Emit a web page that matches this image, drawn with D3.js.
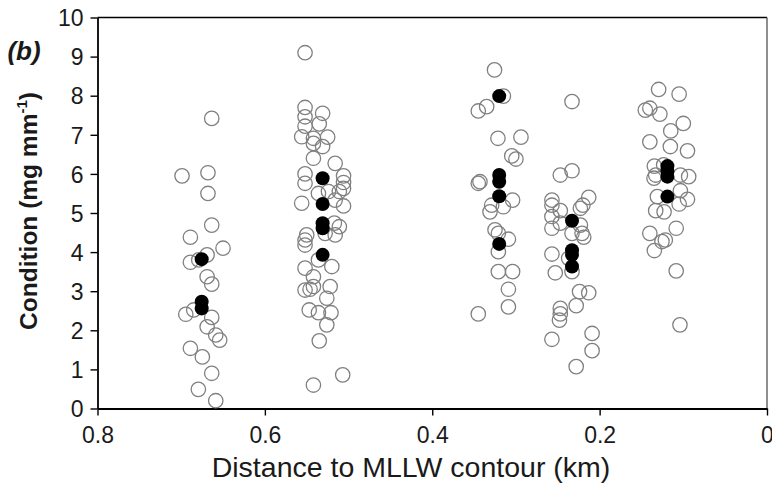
<!DOCTYPE html>
<html>
<head>
<meta charset="utf-8">
<script src="https://cdn.jsdelivr.net/npm/d3@7"></script>
<style>
  body { margin: 0; background: #fff; }
  text { font-family: Arial, "Liberation Sans", sans-serif; fill: #1a1a1a; }
</style>
</head>
<body>
<svg id="chart" width="772" height="488"></svg>
<script>
// individual measurements: [distance km, condition]
const openPoints = [
  [0.6635,7.42],[0.699,5.95],[0.668,6.03],[0.668,5.50],[0.6635,4.69],[0.689,4.38],[0.650,4.10],[0.669,3.93],
  [0.679,3.80],[0.689,3.74],[0.669,3.37],[0.6635,3.18],[0.6945,2.41],[0.685,2.52],[0.6635,2.33],[0.669,2.09],
  [0.6587,1.88],[0.654,1.75],[0.689,1.54],[0.6747,1.32],[0.6635,0.90],[0.6795,0.49],[0.6587,0.20],
  [0.552,9.10],[0.552,7.70],[0.531,7.55],[0.552,7.46],[0.535,7.28],[0.552,7.22],[0.556,6.95],[0.542,6.91],
  [0.525,6.94],[0.542,6.78],[0.531,6.70],[0.542,6.40],[0.516,6.27],[0.552,6.00],[0.506,5.95],[0.552,5.76],
  [0.506,5.78],[0.506,5.63],[0.511,5.55],[0.536,5.50],[0.524,5.55],[0.516,5.33],[0.556,5.25],[0.506,5.18],
  [0.517,4.74],[0.511,4.65],[0.516,4.44],[0.528,4.48],[0.550,4.44],[0.552,4.31],[0.552,4.18],[0.536,3.80],
  [0.520,3.63],[0.552,3.59],[0.542,3.37],[0.522,3.12],[0.552,3.03],[0.546,3.05],[0.542,3.12],[0.526,2.82],
  [0.547,2.52],[0.536,2.45],[0.521,2.45],[0.526,2.14],[0.535,1.73],[0.542,0.60],[0.507,0.86],
  [0.3256,8.66],[0.315,7.99],[0.335,7.72],[0.345,7.61],[0.3215,6.91],[0.294,6.94],[0.305,6.46],[0.300,6.38],
  [0.343,5.80],[0.345,5.76],[0.304,5.33],[0.329,5.20],[0.315,5.16],[0.331,5.03],[0.325,4.57],[0.321,4.48],
  [0.309,4.33],[0.321,4.01],[0.321,3.50],[0.304,3.50],[0.309,3.05],[0.309,2.60],[0.345,2.42],
  [0.233,7.85],[0.247,5.97],[0.233,6.08],[0.257,5.33],[0.257,5.20],[0.247,5.06],[0.213,5.40],[0.220,5.20],
  [0.223,5.12],[0.257,4.91],[0.247,4.74],[0.223,4.69],[0.257,4.61],[0.233,4.48],[0.221,4.48],[0.219,4.38],
  [0.257,3.95],[0.237,3.84],[0.253,3.47],[0.233,3.50],[0.224,2.99],[0.213,2.96],[0.228,2.63],[0.247,2.56],
  [0.247,2.42],[0.248,2.26],[0.257,1.77],[0.209,1.92],[0.209,1.48],[0.228,1.07],
  [0.1295,8.16],[0.105,8.04],[0.1454,7.63],[0.140,7.68],[0.128,7.53],[0.100,7.29],[0.115,7.10],[0.140,6.82],
  [0.1155,6.70],[0.095,6.59],[0.1346,6.20],[0.1235,6.23],[0.133,5.97],[0.135,5.89],[0.1035,5.97],[0.0936,5.93],
  [0.131,5.42],[0.1035,5.57],[0.095,5.35],[0.105,5.23],[0.133,5.06],[0.123,5.03],[0.1085,4.61],[0.140,4.48],
  [0.1215,4.31],[0.1255,4.27],[0.1346,4.04],[0.1085,3.52],[0.104,2.14]
];
// filled markers
const filledPoints = [
  [0.6755,3.82],[0.6755,2.73],[0.6755,2.56],
  [0.531,5.89],[0.531,5.23],[0.531,4.74],[0.531,4.61],[0.531,3.93],
  [0.320,7.99],[0.320,5.97],[0.320,5.80],[0.320,5.43],[0.320,4.21],
  [0.233,4.80],[0.233,4.05],[0.233,3.93],[0.233,3.63],
  [0.119,6.20],[0.119,6.06],[0.119,5.93],[0.119,5.42]
];
const xTicks = [0.8, 0.6, 0.4, 0.2, 0];
const yTicks = [0, 1, 2, 3, 4, 5, 6, 7, 8, 9, 10];

const svg = d3.select("#chart");
const m = { left: 97.5, right: 767, top: 17.5, bottom: 408.5 };

const x = d3.scaleLinear().domain([0.8, 0]).range([m.left, m.right]);
const y = d3.scaleLinear().domain([0, 10]).range([m.bottom, m.top]);

// frame top / right
svg.append("line").attr("x1", m.left).attr("x2", m.right).attr("y1", m.top).attr("y2", m.top)
  .attr("stroke", "#000").attr("stroke-width", 1.6);
svg.append("line").attr("x1", m.right).attr("x2", m.right).attr("y1", m.top).attr("y2", m.bottom)
  .attr("stroke", "#444").attr("stroke-width", 1.2);

const xAxis = svg.append("g").attr("transform", `translate(0,${m.bottom})`)
  .call(d3.axisBottom(x).tickValues(xTicks).tickFormat(d => d === 0 ? "0" : d3.format(".1f")(d)).tickSizeInner(7).tickSizeOuter(0));
const yAxis = svg.append("g").attr("transform", `translate(${m.left},0)`)
  .call(d3.axisLeft(y).tickValues(yTicks).tickFormat(d3.format("d")).tickSizeInner(7).tickSizeOuter(0));

[xAxis, yAxis].forEach(a => {
  a.select(".domain").attr("stroke", "#000").attr("stroke-width", 1.8);
  a.selectAll(".tick line").attr("stroke", "#000").attr("stroke-width", 1.4);
  a.selectAll(".tick text").style("font-size", "23px").attr("fill", "#1a1a1a");
});
xAxis.selectAll(".tick text").attr("dy", "1.05em");
yAxis.selectAll(".tick text").attr("x", -14).attr("dy", "0.36em");

svg.append("g").selectAll("circle").data(openPoints).join("circle")
  .attr("cx", d => x(d[0])).attr("cy", d => y(d[1])).attr("r", 7.2)
  .attr("fill", "none").attr("stroke", "#808080").attr("stroke-width", 1.3);

svg.append("g").selectAll("circle").data(filledPoints).join("circle")
  .attr("cx", d => x(d[0])).attr("cy", d => y(d[1])).attr("r", 7)
  .attr("fill", "#000");

svg.append("text").attr("x", 411).attr("y", 477)
  .attr("text-anchor", "middle").style("font-size", "28.5px")
  .text("Distance to MLLW contour (km)");

const yl = svg.append("text").attr("transform", `translate(37,211) rotate(-90)`)
  .attr("text-anchor", "middle").style("font-size", "24.5px").style("font-weight", "bold");
yl.append("tspan").text("Condition (mg mm");
yl.append("tspan").attr("dy", -10).style("font-size", "15px").text("-1");
yl.append("tspan").attr("dy", 10).text(")");

svg.append("text").attr("x", 24).attr("y", 60).attr("text-anchor", "middle")
  .style("font-size", "26px").style("font-weight", "bold").style("font-style", "italic")
  .text("(b)");
</script>
</body>
</html>
